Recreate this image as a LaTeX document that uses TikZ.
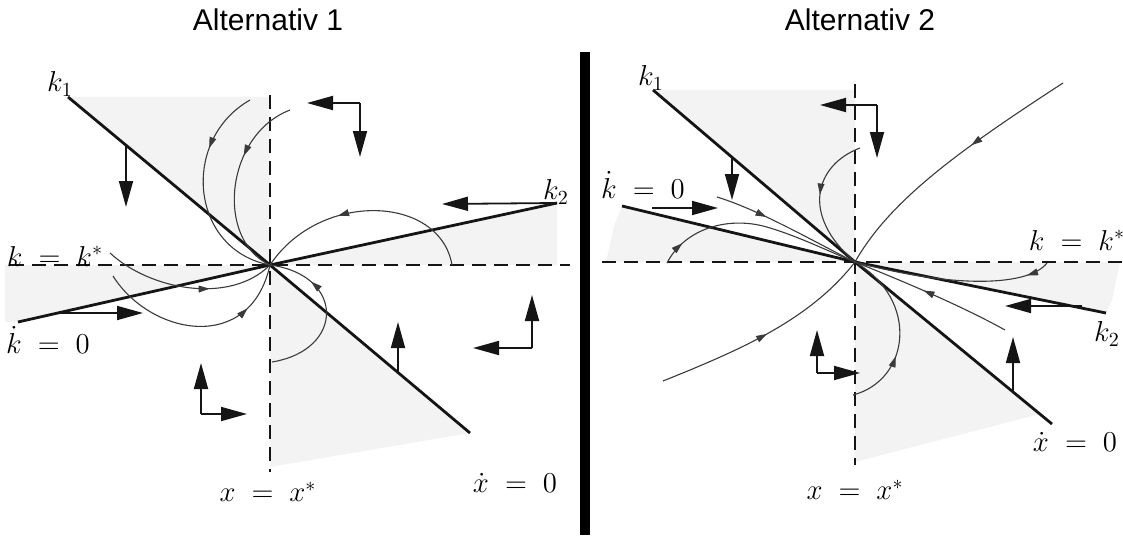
\documentclass[tikz,border=0pt]{standalone}
\usepackage{amsmath,amssymb}
\usepackage{fontspec}
\usepackage{tikz}
\usepackage{xcolor}
\usetikzlibrary{arrows.meta,decorations.markings}
\newfontfamily\titlefont{Liberation Sans}
\definecolor{ink}     {HTML}{151515}
\definecolor{inkgray} {HTML}{3A3A3A}
\definecolor{shadebg} {HTML}{F3F3F3}
\tikzset{
  nullcl/.style   ={line width=1.4pt, color=ink},
  steady/.style   ={line width=0.9pt, color=ink, dash pattern=on 7pt off 4pt},
  shade/.style    ={fill=shadebg, draw=none},
  dirarr/.style   ={-{Triangle[length=13pt,width=7pt]}, line width=0.9pt, color=ink},
  traj/.style     ={line width=0.55pt, color=inkgray, postaction={decorate},
                    decoration={markings, mark=at position #1 with
                    {\arrow{Triangle[length=5.5pt,width=3.4pt]}}}},
  traj/.default   =0.5,
  lbl/.style      ={font=\fontsize{14}{16}\selectfont, inner sep=0pt},
  title/.style    ={font=\titlefont\fontsize{15}{18}\selectfont},
  divider/.style  ={line width=5pt, color=black},
}

\begin{document}
\begin{tikzpicture}[x=0.5pt,y=-0.5pt]
  \useasboundingbox (0,0) rectangle (1123,535);

  % Alternativ 1
  \coordinate (c1) at (270,265);
  \coordinate (kA) at (68,97);
  \coordinate (kB) at (470,433);
  \coordinate (kdA) at (18,322);
  \coordinate (kdB) at (557,203);
  \fill[shade] (68,97) -- (270,97) -- (c1) -- cycle;
  \fill[shade] (c1) -- (kdB) -- (557,265) -- cycle;
  \fill[shade] (c1) -- (5,265) -- (5,322) -- (kdA) -- cycle;
  \fill[shade] (c1) -- (kB) -- (270,467) -- cycle;

  \draw[steady] (270,95) -- (270,472);
  \draw[steady] (10,265) -- (570,265);
  \draw[nullcl] (kA) -- (c1) -- (kB);
  \draw[nullcl] (kdA) -- (c1) -- (kdB);

  \draw[traj=0.3] (250,100) .. controls (180,140) and (190,250) .. (c1);
  \draw[traj=0.35] (290,110) .. controls (225,135) and (215,240) .. (c1);
  \draw[traj=0.62] (110,253) .. controls (150,290) and (230,305) .. (c1);
  \draw[traj=0.76] (113,276) .. controls (150,335) and (250,355) .. (c1);
  \draw[traj=0.62] (452,265) .. controls (440,195) and (320,190) .. (c1);
  \draw[traj=0.72] (272,362) .. controls (345,350) and (345,275) .. (c1);

  \draw[dirarr] (126,145) -- (126,207);
  \draw[dirarr] (360,103) -- (307,103);
  \draw[dirarr] (360,103) -- (360,157);
  \draw[dirarr] (kdB) -- (442,204);
  \draw[dirarr] (60,313) -- (143,313);
  \draw[dirarr] (201,414) -- (201,363);
  \draw[dirarr] (201,414) -- (247,414);
  \draw[dirarr] (398,373) -- (398,322);
  \draw[dirarr] (532,348) -- (532,295);
  \draw[dirarr] (532,348) -- (473,348);

  \node[title] (alt1) at (268,20) {Alternativ 1};
  \node[lbl] (k1a) at (60,84) {$k_1$};
  \node[lbl] (k2a) at (556,192) {$k_2$};
  \node[lbl] (kssa) at (55,256) {$k\;=\;k^{*}$};
  \node[lbl] (kdota) at (48,340) {$\dot{k}\;=\;0$};
  \node[lbl] (xdota) at (515,483) {$\dot{x}\;=\;0$};
  \node[lbl] (xssa) at (268,492) {$x\;=\;x^{*}$};

  \draw[divider] (585,52) -- (585,535);

  % Alternativ 2
  \coordinate (c2) at (855,262);
  \coordinate (lA) at (653,90);
  \coordinate (lB) at (1052,424);
  \coordinate (ldA) at (622,206);
  \coordinate (ldB) at (1106,313);
  \fill[shade] (lA) -- (855,90) -- (c2) -- cycle;
  \fill[shade] (ldA) -- (c2) -- (606,262) -- (614,226) -- cycle;
  \fill[shade] (c2) -- (1120,262) -- (1112,300) -- (ldB) -- cycle;
  \fill[shade] (c2) -- (lB) -- (1040,414) -- (855,462) -- cycle;

  \draw[steady] (855,84) -- (855,465);
  \draw[steady] (602,262) -- (1123,262);
  \draw[nullcl] (lA) -- (c2) -- (lB);
  \draw[nullcl] (ldA) -- (c2) -- (ldB);

  \draw[traj=0.4] (1063,83) .. controls (960,150) and (890,200) .. (c2);
  \draw[traj=0.5] (663,381) .. controls (740,350) and (810,320) .. (c2);
  \draw[traj=0.45] (860,148) .. controls (815,165) and (800,215) .. (c2);
  \draw[traj=0.35] (853,395) .. controls (910,380) and (920,300) .. (c2);
  \draw[traj=0.12] (667,263) .. controls (685,228) and (730,215) .. (770,228)
    .. controls (800,237) and (830,252) .. (c2);
  \draw[traj=0.35] (717,197) .. controls (760,210) and (820,245) .. (c2);
  \draw[traj=0.12] (1047,263) .. controls (1030,285) and (960,290) .. (c2);
  \draw[traj=0.55] (1005,330) .. controls (960,305) and (900,280) .. (c2);

  \draw[dirarr] (732,157) -- (732,200);
  \draw[dirarr] (652,208) -- (718,208);
  \draw[dirarr] (877,105) -- (820,105);
  \draw[dirarr] (877,105) -- (877,158);
  \draw[dirarr] (817,373) -- (817,330);
  \draw[dirarr] (817,373) -- (860,373);
  \draw[dirarr] (1082,306) -- (1005,306);
  \draw[dirarr] (1013,393) -- (1013,337);

  \node[title] (alt2) at (860,20) {Alternativ 2};
  \node[lbl] (k1b) at (651,78) {$k_1$};
  \node[lbl] (k2b) at (1107,334) {$k_2$};
  \node[lbl] (kssb) at (1077,240) {$k\;=\;k^{*}$};
  \node[lbl] (kdotb) at (643,185) {$\dot{k}\;=\;0$};
  \node[lbl] (xdotb) at (1075,442) {$\dot{x}\;=\;0$};
  \node[lbl] (xssb) at (855,490) {$x\;=\;x^{*}$};
\end{tikzpicture}
\end{document}
